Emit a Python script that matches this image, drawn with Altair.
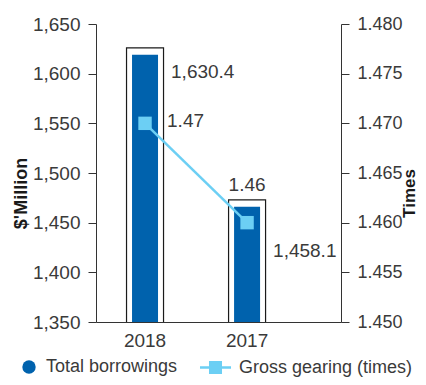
import altair as alt
import pandas as pd

years = ["2018", "2017"]
borrowing_labels = ["1,630.4", "1,458.1"]
bar_heights = [1619, 1466]      # filled bars as drawn
box_heights = [1626, 1473]      # outlined boxes as drawn
gearing = [1.47, 1.46]
gearing_labels = ["1.47", "1.46"]
left_ticks = [1350, 1400, 1450, 1500, 1550, 1600, 1650]
right_ticks = [1.450, 1.455, 1.460, 1.465, 1.470, 1.475, 1.480]
series = ["Total borrowings", "Gross gearing (times)"]

BLUE = "#0062ad"
LIGHT = "#6ccff4"
TXT = "#3a3a3a"
FONT = "Liberation Sans"
FS = 19

df = pd.DataFrame({
    "year": years,
    "box": box_heights,
    "bar": bar_heights,
    "blabel": borrowing_labels,
    "gear": gearing,
    "glabel": gearing_labels,
    "s1": series[0],
    "s2": series[1],
})

base = alt.Chart(df)

x = alt.X(
    "year:N", sort=years,
    scale=alt.Scale(paddingInner=0.039, paddingOuter=0.22, align=0),
    axis=alt.Axis(title=None, labelAngle=0, ticks=False, labelPadding=9),
)

left_axis = alt.Axis(
    values=left_ticks, format=",.0f", title="$'Million", orient="left",
    tickSize=8, labelPadding=8, grid=False,
    titleAngle=270, titleX=-75, titleY=169, titleAlign="center", titleBaseline="middle",
)
left_scale = alt.Scale(domain=[1350, 1650], zero=False, nice=False)

box = base.mark_bar(fill="white", stroke="#1a1a1a", strokeWidth=1.2, size=37, clip=True).encode(
    x=x, y=alt.Y("box:Q", scale=left_scale, axis=left_axis)
)
bars = base.mark_bar(size=26, clip=True).encode(
    x=x,
    y=alt.Y("bar:Q", scale=left_scale, axis=left_axis),
    color=alt.Color(
        "s1:N",
        scale=alt.Scale(domain=[series[0]], range=[BLUE]),
        legend=alt.Legend(
            title=None, orient="none", legendX=-76, legendY=334,
            symbolType="circle", symbolSize=180, symbolStrokeWidth=0,
            labelOffset=8, padding=0, labelLimit=300, labelFontSize=18,
        ),
    ),
)
blab_a = base.transform_filter(alt.datum.year == "2018").mark_text(
    align="left", baseline="middle", dx=26, dy=24, fontSize=FS, font=FONT, color=TXT
).encode(x=x, y=alt.Y("box:Q", scale=left_scale, axis=left_axis), text="blabel:N")
blab_b = base.transform_filter(alt.datum.year == "2017").mark_text(
    align="left", baseline="middle", dx=26, dy=51.5, fontSize=FS, font=FONT, color=TXT
).encode(x=x, y=alt.Y("box:Q", scale=left_scale, axis=left_axis), text="blabel:N")

left = alt.layer(box, bars, blab_a, blab_b)

right_axis = alt.Axis(
    values=right_ticks, format=".3f", title="Times", orient="right",
    tickSize=8, labelPadding=8, grid=False, labelFontSize=18,
    titleFontSize=17,
    titleAngle=270, titleX=68, titleY=169, titleAlign="center", titleBaseline="middle",
)
right_scale = alt.Scale(domain=[1.45, 1.48], zero=False, nice=False)

line = base.mark_line(color=LIGHT, strokeWidth=2.5).encode(
    x=x, y=alt.Y("gear:Q", scale=right_scale, axis=right_axis)
)
pts = base.mark_square(color=LIGHT, size=180, opacity=1).encode(
    x=x, y=alt.Y("gear:Q", scale=right_scale, axis=right_axis)
)
glab_a = base.transform_filter(alt.datum.year == "2018").mark_text(
    align="left", baseline="middle", dx=22, dy=-2, fontSize=FS, font=FONT, color=TXT
).encode(x=x, y=alt.Y("gear:Q", scale=right_scale, axis=right_axis), text="glabel:N")
glab_b = base.transform_filter(alt.datum.year == "2017").mark_text(
    align="center", baseline="middle", dx=0, dy=-38, fontSize=FS, font=FONT, color=TXT
).encode(x=x, y=alt.Y("gear:Q", scale=right_scale, axis=right_axis), text="glabel:N")

legend_path = "M-1,-0.08H1V0.08H-1Z M-0.42,-0.42H0.42V0.42H-0.42Z"
legend_dummy = base.transform_filter("false").mark_point(
    filled=True, color=LIGHT, size=961, opacity=1
).encode(
    x=x,
    shape=alt.Shape(
        "s2:N",
        scale=alt.Scale(domain=[series[1]], range=[legend_path]),
        legend=alt.Legend(
            title=None, orient="none", legendX=104, legendY=328,
            symbolSize=961, symbolFillColor=LIGHT, symbolStrokeWidth=0,
            labelOffset=8, padding=0, labelLimit=300, labelFontSize=18,
        ),
    ),
)

right = alt.layer(line, pts, glab_a, glab_b, legend_dummy)

chart = (
    alt.layer(left, right)
    .resolve_scale(y="independent", color="independent", shape="independent")
    .properties(
        width=245, height=298,
        autosize=alt.AutoSizeParams(type="none"),
        padding={"left": 88, "top": 16, "right": 77, "bottom": 55},
    )
    .configure_view(stroke=None)
    .configure_axis(
        labelFont=FONT, labelFontSize=FS, labelColor=TXT,
        titleFont=FONT, titleFontSize=18, titleFontWeight="bold", titleColor="#1a1a1a",
        domainColor="#333333", tickColor="#333333", domainWidth=1, tickWidth=1,
    )
    .configure_legend(labelFont=FONT, labelFontSize=FS, labelColor=TXT)
)

chart.save("out.html", embed_options={"renderer": "svg", "actions": False})
